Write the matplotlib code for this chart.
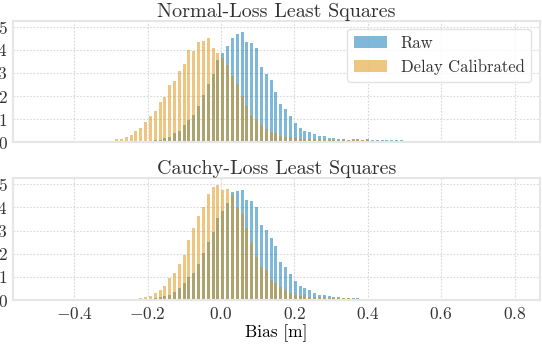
import numpy as np
import matplotlib.pyplot as plt

plt.rcParams['font.family'] = 'serif'
plt.rcParams['font.serif'] = ['cmr10']
plt.rcParams['mathtext.fontset'] = 'cm'
plt.rcParams['axes.formatter.use_mathtext'] = True
plt.rcParams['text.color'] = '#333333'
plt.rcParams['xtick.color'] = '#333333'
plt.rcParams['ytick.color'] = '#333333'

# histogram bins (density), shared by both panels
bin_first = -0.3374   # centre of the first bin
bin_width = 0.01316

# top panel: normal-loss least squares
normal_raw = [
    0, 0, 0, 0, 0, 0, 0, 0, 0.01, 0.02, 0.03,
    0.06, 0.10, 0.10, 0.19, 0.23, 0.40, 0.49, 0.75, 0.97, 1.18,
    1.57, 2.05, 2.53, 2.96, 3.56, 3.87, 4.17, 4.52, 4.69, 4.78,
    4.34, 4.30, 4.08, 3.26, 2.96, 2.70, 2.18, 1.66, 1.44, 1.14,
    0.84, 0.62, 0.49, 0.45, 0.36, 0.27, 0.27, 0.19, 0.19, 0.14,
    0.14, 0.10, 0.14, 0.14, 0.10, 0.14, 0.12, 0.10, 0.10, 0.10,
    0.10, 0.10, 0.10, 0.06, 0.02, 0.04, 0.02, 0.04, 0]
normal_delay = [
    0, 0.04, 0.04, 0.05, 0.13, 0.14, 0.23, 0.32, 0.49, 0.62, 0.88,
    1.14, 1.36, 1.75, 1.96, 2.48, 2.66, 3.09, 3.39, 4.00, 3.95,
    4.34, 4.39, 4.52, 4.08, 3.87, 3.65, 3.35, 2.87, 2.51, 2.01,
    1.57, 1.18, 0.97, 0.75, 0.58, 0.45, 0.40, 0.27, 0.23, 0.23,
    0.19, 0.14, 0.14, 0.14, 0.14, 0.14, 0.12, 0.12, 0.12, 0.12,
    0.14, 0.10, 0.12, 0.12, 0.08, 0.08, 0.06, 0.06, 0.04, 0.04,
    0.04, 0.02, 0.02, 0, 0, 0, 0, 0, 0]

# bottom panel: cauchy-loss least squares
cauchy_raw = [
    0, 0, 0, 0, 0, 0, 0, 0, 0.02, 0.03, 0.04,
    0.05, 0.07, 0.12, 0.17, 0.22, 0.33, 0.52, 0.72, 1.01, 1.17,
    1.56, 2.05, 2.51, 2.94, 3.54, 3.85, 4.18, 4.65, 4.73, 4.76,
    4.33, 4.29, 4.04, 3.25, 3.03, 2.70, 2.34, 1.66, 1.44, 1.13,
    0.84, 0.61, 0.53, 0.43, 0.32, 0.22, 0.20, 0.17, 0.14, 0.12,
    0.10, 0.10, 0.08, 0.08, 0.06, 0.06, 0.05, 0.04, 0.04, 0.03,
    0.03, 0.02, 0.02, 0, 0, 0, 0, 0, 0]
cauchy_delay = [
    0, 0, 0, 0, 0, 0, 0, 0, 0.03, 0.09, 0.13,
    0.17, 0.30, 0.43, 0.61, 0.95, 1.15, 1.56, 1.95, 2.60, 3.13,
    3.61, 4.04, 4.59, 4.88, 4.98, 4.76, 4.81, 4.55, 3.97, 3.71,
    3.10, 2.51, 1.88, 1.44, 1.30, 0.87, 0.72, 0.55, 0.43, 0.32,
    0.22, 0.17, 0.22, 0.14, 0.14, 0.12, 0.12, 0.10, 0.10, 0.08,
    0.08, 0.07, 0.06, 0.06, 0.05, 0.05, 0.04, 0.04, 0.03, 0.03,
    0.02, 0.02, 0.01, 0, 0, 0, 0, 0, 0]

titles = ['Normal-Loss Least Squares', 'Cauchy-Loss Least Squares']
labels = ['Raw', 'Delay Calibrated']
colors = ['#0173B2', '#DE8F05']

centers = bin_first + bin_width * np.arange(len(normal_raw))

fig = plt.figure(figsize=(5.42, 3.46), dpi=100)
ax1 = fig.add_axes([0.024, 0.5887, 0.9714, 0.3515])
ax2 = fig.add_axes([0.024, 0.1329, 0.9714, 0.3518], sharex=ax1)

for ax, raw, delay, title in [(ax1, normal_raw, normal_delay, titles[0]),
                              (ax2, cauchy_raw, cauchy_delay, titles[1])]:
    ax.bar(centers, raw, width=bin_width * 0.62, color=colors[0], alpha=0.5,
           label=labels[0], linewidth=0)
    ax.bar(centers, delay, width=bin_width * 0.62, color=colors[1], alpha=0.5,
           label=labels[1], linewidth=0)
    ax.set_title(title, fontsize=14.5, pad=3)
    ax.set_ylim(0, 5.26)
    ax.set_yticks([0, 1, 2, 3, 4, 5])
    ax.grid(True, linestyle=(0, (1.5, 1.5)), color='#d8d8d8', linewidth=0.8)
    ax.set_axisbelow(True)
    for s in ax.spines.values():
        s.set_color('#e6e6e6')
        s.set_linewidth(1.5)
    ax.tick_params(length=0, labelsize=12.5, pad=4)

ax1.set_xlim(-0.567, 0.868)
ax1.set_xticks([-0.4, -0.2, 0.0, 0.2, 0.4, 0.6, 0.8])
ax1.tick_params(labelbottom=False)
ax2.set_xlabel('Bias [m]', fontsize=12.5, labelpad=2)

leg = ax1.legend(loc='upper right', fontsize=12, frameon=True, fancybox=True)
leg.get_frame().set_edgecolor('#dddddd')

fig.savefig('out.png', dpi=100)
